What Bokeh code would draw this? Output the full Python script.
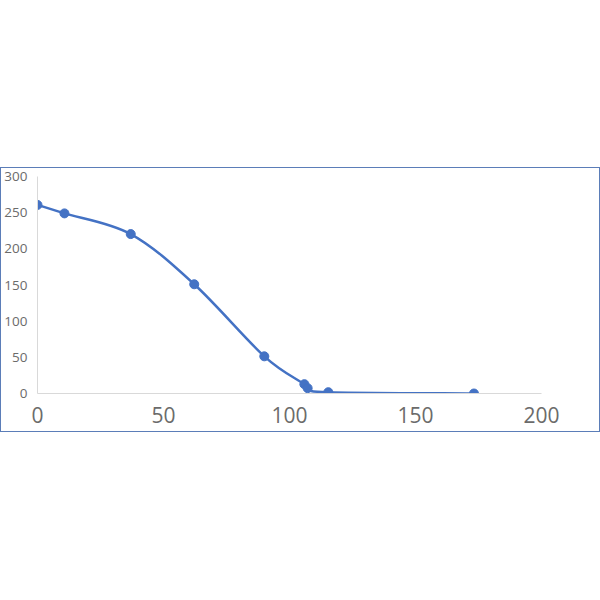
from bokeh.plotting import figure
from bokeh.embed import file_html
from bokeh.resources import INLINE
from bokeh.models import Range1d, FixedTicker

x_vals = [0, 10.7, 37, 62.2, 90, 105.9, 107.2, 115.4, 173.2]
y_vals = [260.7, 249, 220.4, 151, 51.4, 12.9, 7.4, 1.8, 0]
x_ticks = [0, 50, 100, 150, 200]
y_ticks = [0, 50, 100, 150, 200, 250, 300]

BLUE = "#4472C4"

p = figure(width=598, height=263, output_backend="svg", toolbar_location=None,
           x_range=Range1d(0, 200), y_range=Range1d(0, 300),
           min_border_left=36, min_border_right=58, min_border_top=8, min_border_bottom=38,
           styles={"position": "absolute", "left": "1px", "top": "168px",
                   "outline": "1px solid #5B7DB8"})
p.outline_line_color = None
p.grid.visible = False
p.background_fill_color = "white"
p.border_fill_color = "white"

# smooth curve (Catmull-Rom -> cubic Bezier, like a spreadsheet's smoothed line)
n = len(x_vals)
x0s, y0s, x1s, y1s, cx0s, cy0s, cx1s, cy1s = [], [], [], [], [], [], [], []
for i in range(n - 1):
    xa, ya = x_vals[i], y_vals[i]
    xb, yb = x_vals[i + 1], y_vals[i + 1]
    xp, yp = (x_vals[i - 1], y_vals[i - 1]) if i > 0 else (xa, ya)
    xn, yn = (x_vals[i + 2], y_vals[i + 2]) if i + 2 < n else (xb, yb)
    x0s.append(xa); y0s.append(ya); x1s.append(xb); y1s.append(yb)
    cx0s.append(xa + (xb - xp) / 6); cy0s.append(ya + (yb - yp) / 6)
    cx1s.append(xb - (xn - xa) / 6); cy1s.append(yb - (yn - ya) / 6)

p.bezier(x0=x0s, y0=y0s, x1=x1s, y1=y1s, cx0=cx0s, cy0=cy0s, cx1=cx1s, cy1=cy1s,
         line_color=BLUE, line_width=2.5)
p.scatter(x_vals, y_vals, size=9, fill_color=BLUE, line_color=BLUE)

for ax in (p.xaxis[0], p.yaxis[0]):
    ax.axis_line_color = "#D9D9D9"
    ax.axis_line_width = 1
    ax.major_tick_line_color = None
    ax.major_tick_out = 0
    ax.major_tick_in = 0
    ax.minor_tick_line_color = None
    ax.minor_tick_out = 0
    ax.minor_tick_in = 0
    ax.major_label_text_color = "#6B6B6B"
    ax.major_label_text_font = "Open Sans"

p.xaxis.ticker = FixedTicker(ticks=x_ticks)
p.yaxis.ticker = FixedTicker(ticks=y_ticks)
p.xaxis.major_label_text_font_size = "21px"
p.yaxis.major_label_text_font_size = "13.5px"
p.xaxis.major_label_standoff = 13
p.yaxis.major_label_standoff = 10

open("out.html", "w").write(file_html(p, INLINE))
